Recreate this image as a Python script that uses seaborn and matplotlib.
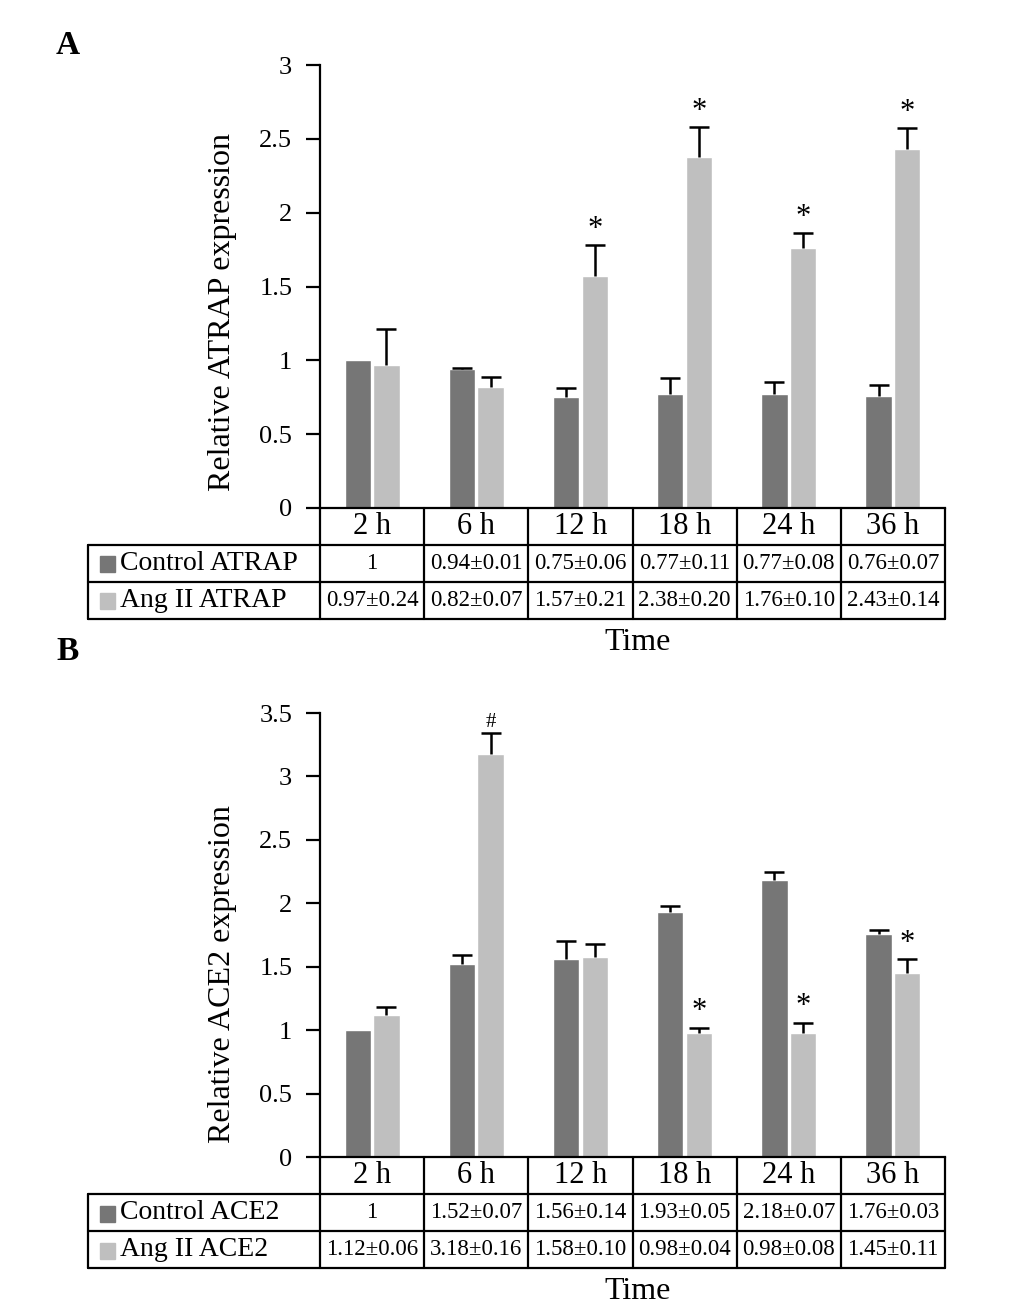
import numpy as np
import pandas as pd
import seaborn as sns
import matplotlib.pyplot as plt
from matplotlib.patches import Rectangle

times = ['2 h', '6 h', '12 h', '18 h', '24 h', '36 h']

# panel A - ATRAP
ctrl_atrap = [1, 0.94, 0.75, 0.77, 0.77, 0.76]
ctrl_atrap_err = [0, 0.01, 0.06, 0.11, 0.08, 0.07]
ang_atrap = [0.97, 0.82, 1.57, 2.38, 1.76, 2.43]
ang_atrap_err = [0.24, 0.07, 0.21, 0.20, 0.10, 0.14]
ang_atrap_marks = ['', '', '*', '*', '*', '*']

# panel B - ACE2
ctrl_ace2 = [1, 1.52, 1.56, 1.93, 2.18, 1.76]
ctrl_ace2_err = [0, 0.07, 0.14, 0.05, 0.07, 0.03]
ang_ace2 = [1.12, 3.18, 1.58, 0.98, 0.98, 1.45]
ang_ace2_err = [0.06, 0.16, 0.10, 0.04, 0.08, 0.11]
ang_ace2_marks = ['', '#', '', '*', '*', '*']

dark = '#767676'
light = '#bfbfbf'

sns.set_style('white')
plt.rcParams['font.family'] = ['Liberation Serif', 'DejaVu Serif']
plt.rcParams['text.color'] = 'black'
plt.rcParams['ytick.color'] = 'black'
plt.rcParams['axes.labelcolor'] = 'black'


def fmt(v, e):
    if e == 0:
        return '%g' % v
    return '%.2f\u00b1%.2f' % (v, e)


def upper_errbars(ax, xs, ys, errs):
    xs, ys, errs = np.asarray(xs), np.asarray(ys), np.asarray(errs)
    keep = errs > 0  # reference bars without SD have no whisker
    _, caps, _ = ax.errorbar(xs[keep], ys[keep], yerr=[np.zeros(keep.sum()), errs[keep]],
                             fmt='none', ecolor='black', elinewidth=1.8, capsize=7,
                             capthick=1.8)
    caps[0].set_visible(False)  # no cap at the bar top


def panel(ax, gene, ctrl, ctrl_err, ang, ang_err, marks, ymax, step, label_y):
    df = pd.DataFrame({
        'time': times * 2,
        'value': ctrl + ang,
        'group': ['Control ' + gene] * 6 + ['Ang II ' + gene] * 6,
    })
    sns.barplot(data=df, x='time', y='value', hue='group', palette=[dark, light],
                width=0.55, gap=0.08, saturation=1, errorbar=None, legend=False, ax=ax)
    x = np.arange(6)
    off = 0.55 / 4
    upper_errbars(ax, x - off, ctrl, ctrl_err)
    upper_errbars(ax, x + off, ang, ang_err)
    for i, m in enumerate(marks):
        if m:
            ax.text(x[i] + off, ang[i] + ang_err[i] + 0.01, m, ha='center', va='bottom',
                    fontsize=22 if m == '*' else 15)
    ax.set_xlim(-0.5, 5.5)
    ax.set_ylim(0, ymax)
    ticks = np.arange(0, ymax + 0.01, step)
    ax.set_yticks(ticks)
    ax.set_yticklabels(['%g' % t for t in ticks])
    ax.set_xticks([])
    ax.set_xlabel('')
    ax.set_ylabel('Relative %s expression' % gene, fontsize=23)
    ax.yaxis.set_label_coords(-0.133, label_y)
    ax.tick_params(axis='y', direction='out', length=10, width=1.6, labelsize=19, pad=10, left=True)
    for s in ['top', 'right']:
        ax.spines[s].set_visible(False)
    for s in ['left', 'bottom']:
        ax.spines[s].set_linewidth(1.6)
        ax.spines[s].set_color('black')

    # data table under the bars
    tr = ax.get_xaxis_transform()
    rh = 37 / 443
    xl = -2.73
    edges = np.arange(-0.5, 5.6, 1)
    kw = dict(transform=tr, clip_on=False, color='black', lw=1.6)
    for k in range(1, 4):
        ax.plot([xl, 5.5], [-k * rh] * 2, **kw)
    for e in edges:
        ax.plot([e, e], [0, -3 * rh], **kw)
    ax.plot([xl, xl], [-rh, -3 * rh], **kw)
    for i, t in enumerate(times):
        ax.text(i, -0.5 * rh, t, transform=tr, ha='center', va='center', fontsize=22)
        ax.text(i, -1.5 * rh, fmt(ctrl[i], ctrl_err[i]), transform=tr, ha='center',
                va='center', fontsize=16.5)
        ax.text(i, -2.5 * rh, fmt(ang[i], ang_err[i]), transform=tr, ha='center',
                va='center', fontsize=16.5)
    for r, (name, col) in enumerate([('Control ' + gene, dark), ('Ang II ' + gene, light)]):
        yc = -(1.5 + r) * rh
        ax.add_patch(Rectangle((xl + 0.12, yc - 0.02), 0.14, 0.036, transform=tr,
                               clip_on=False, color=col))
        ax.text(xl + 0.31, yc, name, transform=tr, ha='left', va='center', fontsize=20)
    ax.text(2.55, -3 * rh - 0.052, 'Time', transform=tr, ha='center', va='center', fontsize=23)


fig = plt.figure(figsize=(10.33, 13.10), dpi=100)
axA = fig.add_axes([320 / 1033, 1 - 508 / 1310, 625 / 1033, 443 / 1310])
axB = fig.add_axes([320 / 1033, 1 - 1157 / 1310, 625 / 1033, 444 / 1310])

panel(axA, 'ATRAP', ctrl_atrap, ctrl_atrap_err, ang_atrap, ang_atrap_err,
      ang_atrap_marks, 3, 0.5, 0.442)
panel(axB, 'ACE2', ctrl_ace2, ctrl_ace2_err, ang_ace2, ang_ace2_err,
      ang_ace2_marks, 3.5, 0.5, 0.412)

fig.text(68 / 1033, 1 - 45 / 1310, 'A', fontsize=24, fontweight='bold', ha='center', va='center')
fig.text(68 / 1033, 1 - 652 / 1310, 'B', fontsize=24, fontweight='bold', ha='center', va='center')

fig.savefig('out.png', dpi=100)
